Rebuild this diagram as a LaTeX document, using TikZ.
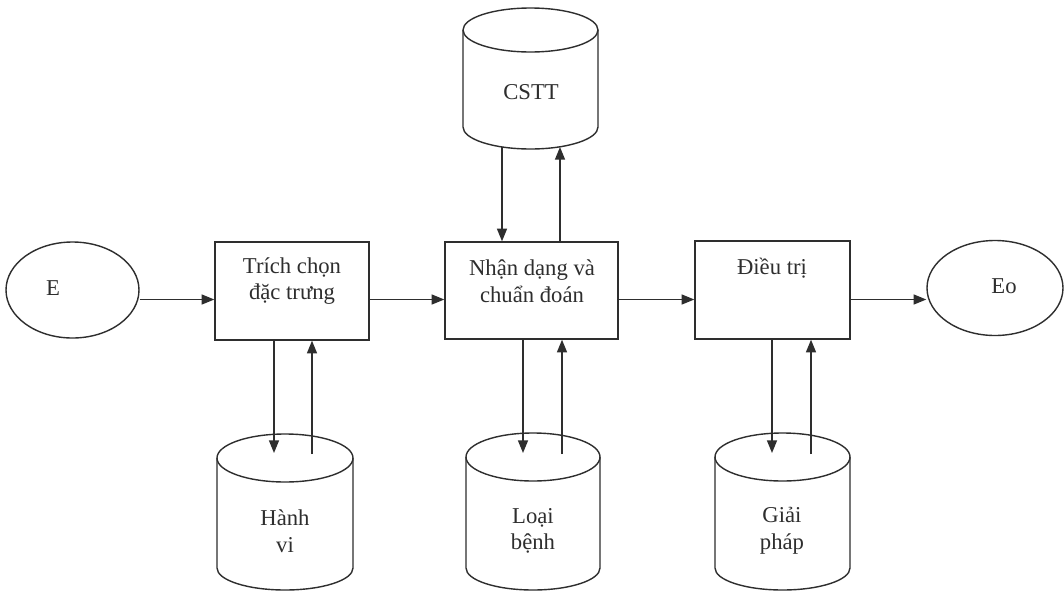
\documentclass[tikz,border=0pt]{standalone}
\usepackage{fontspec}
\setmainfont{Liberation Serif}
\usetikzlibrary{arrows.meta,shapes.geometric}
\definecolor{ink}{gray}{0.18}
\newcommand\dbcyl[6]{%
  \draw[ln] (#1,#2) ellipse[x radius=#4, y radius=#5];
  \draw[ln] (#1-#4,#2) -- (#1-#4,#3) arc[start angle=180, end angle=0, x radius=#4, y radius=#6] -- (#1+#4,#2);
}
\begin{document}
\begin{tikzpicture}[x=0.75pt,y=-0.75pt,
  ln/.style={draw=ink, line width=1.05pt},
  arr/.style={ln, -{Triangle[width=7.5pt,length=9.5pt]}},
  txt/.style={font=\fontsize{17}{20}\selectfont, align=center, text=ink, inner sep=0pt},
  box/.style={ln, rectangle, inner sep=0pt},
  ell/.style={ln, ellipse, inner sep=0pt}]
\fill[white] (0,0) rectangle (1064,593);
\useasboundingbox (0,0) rectangle (1064,593);

% main row
\node[ell, minimum width=99.75pt, minimum height=72pt] (E) at (72.5,290) {};
\node[txt] at (53,288) {E};
\node[box, minimum width=115.5pt, minimum height=73.5pt] (b1) at (292,291) {};
\node[txt] at (292,281) {Trích chọn\\đặc trưng};
\node[box, minimum width=129.75pt, minimum height=72.75pt] (b2) at (531.5,290.5) {};
\node[txt] at (532,281) {Nhận dạng và\\chuẩn đoán};
\node[box, minimum width=116.25pt, minimum height=73.5pt] (b3) at (772.5,290) {};
\node[txt] at (772,268) {Điều trị};
\node[ell, minimum width=102pt, minimum height=71.25pt] (Eo) at (995,288) {};
\node[txt] at (1004,286) {Eo};

\coordinate (hy) at (0,299.5);
\draw[arr] (E.east |- hy) -- (b1.west |- hy);
\draw[arr] (b1.east |- hy) -- (b2.west |- hy);
\draw[arr] (b2.east |- hy) -- (b3.west |- hy);
\draw[arr] (b3.east |- hy) -- (Eo.west |- hy);

% databases
\dbcyl{530.5}{30}{127}{67.5}{22}{22}
\node[txt] (cs) at (531,92) {CSTT};
\dbcyl{285}{458}{568}{68}{24}{22}
\node[txt] (hv) at (285,531) {Hành\\vi};
\dbcyl{533}{457}{568}{67}{24}{22}
\node[txt] (lb) at (533,531) {Loại\\bệnh};
\dbcyl{782.5}{457}{568}{67.5}{24}{22}
\node[txt] (gp) at (782,531) {Giải\\pháp};

% connector end points inside the cylinders
\coordinate (csA) at (502,147);
\coordinate (csB) at (560,147);
\coordinate (hvA) at (274,453);
\coordinate (hvB) at (312,454);
\coordinate (lbA) at (523,453);
\coordinate (lbB) at (562,454);
\coordinate (gpA) at (772,453);
\coordinate (gpB) at (811,454);

\draw[arr] (csA) -- (b2.north -| csA);
\draw[arr] (b2.north -| csB) -- (csB);
\draw[arr] (b1.south -| hvA) -- (hvA);
\draw[arr] (hvB) -- (b1.south -| hvB);
\draw[arr] (b2.south -| lbA) -- (lbA);
\draw[arr] (lbB) -- (b2.south -| lbB);
\draw[arr] (b3.south -| gpA) -- (gpA);
\draw[arr] (gpB) -- (b3.south -| gpB);
\end{tikzpicture}
\end{document}
